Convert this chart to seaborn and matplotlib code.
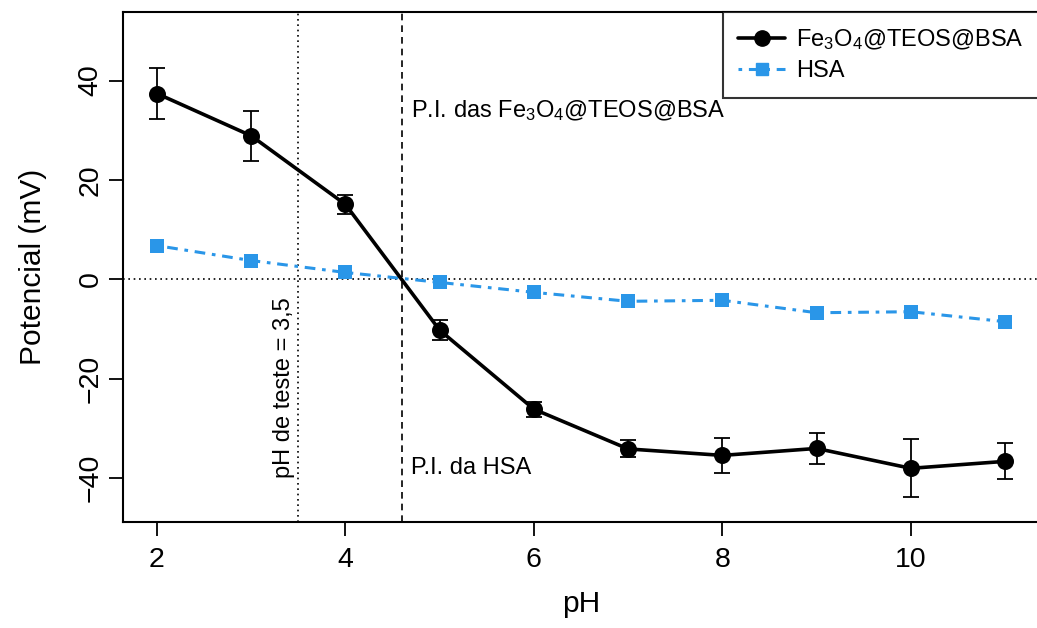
import matplotlib
matplotlib.use("Agg")
import matplotlib.pyplot as plt
from matplotlib.lines import Line2D
import seaborn as sns
import pandas as pd

# ---- data ----
ph = [2, 3, 4, 5, 6, 7, 8, 9, 10, 11]
fe_mean = [37.4, 28.9, 15.1, -10.2, -26.1, -34.1, -35.4, -34.0, -38.0, -36.6]
fe_err = [5.1, 5.0, 1.9, 2.0, 1.5, 1.7, 3.5, 3.1, 5.8, 3.6]
hsa_mean = [6.8, 3.8, 1.4, -0.6, -2.6, -4.4, -4.2, -6.7, -6.5, -8.5]
hsa_err = [0.3, 0.3, 0.3, 0.3, 0.3, 0.3, 0.3, 0.8, 0.7, 0.3]
label_fe = r"Fe$_\mathrm{3}$O$_\mathrm{4}$@TEOS@BSA"
label_hsa = "HSA"
pi_hsa = 4.6
ph_teste = 3.5
x_ticks = [2, 4, 6, 8, 10]
y_ticks = [-40, -20, 0, 20, 40]

blue = "#2A96E8"

sns.set_style("ticks")
plt.rcParams["font.family"] = ["Liberation Sans", "DejaVu Sans"]
plt.rcParams["mathtext.fontset"] = "custom"
plt.rcParams["mathtext.rm"] = "Liberation Sans"
plt.rcParams["mathtext.it"] = "Liberation Sans:italic"
plt.rcParams["mathtext.bf"] = "Liberation Sans:bold"
for k in ["text.color", "axes.labelcolor", "xtick.color", "ytick.color",
          "axes.edgecolor"]:
    plt.rcParams[k] = "black"

df = pd.DataFrame({"pH": ph * 2,
                   "val": fe_mean + hsa_mean,
                   "serie": [label_fe] * len(ph) + [label_hsa] * len(ph)})

fig = plt.figure(figsize=(10.37, 6.28), dpi=100)
ax = fig.add_axes([123 / 1037, 106 / 628, 916 / 1037, 510 / 628])

# reference lines
ax.axhline(0, color="black", lw=1.2, ls=(0, (1, 2.2)), zorder=1)
ax.axvline(ph_teste, color="black", lw=1.2, ls=(0, (1, 2.2)), zorder=1)
ax.axvline(pi_hsa, color="black", lw=1.2, ls=(0, (4, 3)), zorder=1)

# HSA series
sns.lineplot(data=df[df.serie == label_hsa], x="pH", y="val", ax=ax,
             color=blue, lw=2.2, legend=False, zorder=2)
ax.lines[-1].set_linestyle((0, (1.2, 2.2, 3.5, 2.2)))
ax.errorbar(ph, hsa_mean, yerr=hsa_err, fmt="none", ecolor=blue, elinewidth=1.2,
            capsize=4, capthick=1.2, zorder=3)
sns.scatterplot(data=df[df.serie == label_hsa], x="pH", y="val", ax=ax,
                color=blue, marker="s", s=110, edgecolor=blue, linewidth=0,
                legend=False, zorder=4)

# Fe3O4 series
sns.lineplot(data=df[df.serie == label_fe], x="pH", y="val", ax=ax,
             color="black", lw=2.6, legend=False, zorder=5)
ax.errorbar(ph, fe_mean, yerr=fe_err, fmt="none", ecolor="black", elinewidth=1.3,
            capsize=5.5, capthick=1.3, zorder=6)
sns.scatterplot(data=df[df.serie == label_fe], x="pH", y="val", ax=ax,
                color="black", marker="o", s=150, edgecolor="black", linewidth=0,
                legend=False, zorder=7)

ax.set_xlim(1.64, 11.36)
ax.set_ylim(-48.8, 53.8)
ax.set_xticks(x_ticks)
ax.set_yticks(y_ticks)
ax.set_yticklabels([str(t).replace("-", "\u2212") for t in y_ticks],
                   rotation=90, va="center")
ax.tick_params(axis="both", labelsize=20.5, length=10, width=1.3, color="black",
               direction="out")
ax.tick_params(axis="x", pad=8)
ax.tick_params(axis="y", pad=4)
for s in ax.spines.values():
    s.set_visible(True)
    s.set_color("black")
    s.set_linewidth(1.5)

ax.set_xlabel("pH", fontsize=21.5, labelpad=12)
ax.set_ylabel("Potencial (mV)", fontsize=21.5, labelpad=22)

# annotations
ax.text(4.7, 34.0, r"P.I. das Fe$_\mathrm{3}$O$_\mathrm{4}$@TEOS@BSA",
        fontsize=17, ha="left", va="center")
ax.text(4.7, -38.0, "P.I. da HSA", fontsize=17, ha="left", va="center")
ax.text(3.46, -40.0, "pH de teste = 3,5", fontsize=17, rotation=90,
        ha="right", va="bottom")

handles = [
    Line2D([], [], color="black", lw=2.6, marker="o", markersize=11),
    Line2D([], [], color=blue, lw=2.2, ls=(0, (1.2, 2.2, 3.5, 2.2)),
           marker="s", markersize=9),
]
leg = ax.legend(handles, [label_fe, label_hsa], loc="upper right",
                bbox_to_anchor=(1.0, 1.0), borderaxespad=0, frameon=True,
                fancybox=False, edgecolor="black", fontsize=17,
                handlelength=2.0, handletextpad=0.45, labelspacing=0.35,
                borderpad=0.65)
leg.get_frame().set_linewidth(1.5)

fig.savefig("out.png", dpi=100)
